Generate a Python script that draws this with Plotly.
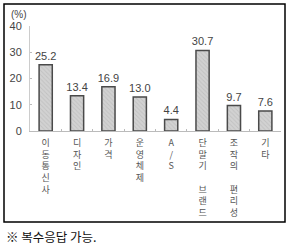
import plotly.graph_objects as go

categories = ["이동통신사", "디자인", "가격", "운영체제", "A/S", "단말기 브랜드", "조작의 편리성", "기타"]
tick_texts = ["이<br>동<br>통<br>신<br>사", "디<br>자<br>인", "가<br>격", "운<br>영<br>체<br>제",
              "A<br>/<br>S", "단<br>말<br>기<br> <br>브<br>랜<br>드", "조<br>작<br>의<br> <br>편<br>리<br>성", "기<br>타"]
values = [25.2, 13.4, 16.9, 13.0, 4.4, 30.7, 9.7, 7.6]
y_ticks = [0, 10, 20, 30, 40]

W, H = 289, 246
L, R, T, B = 30, 8, 26, 115
pw, ph = W - L - R, H - T - B

def px(x):
    return (x - L) / pw

def py(y):
    return (H - B - y) / ph

fig = go.Figure()
fig.add_trace(go.Bar(
    x=categories, y=values,
    text=[f"{v:.1f}" for v in values], textposition="outside",
    constraintext="none",
    textfont=dict(family="Liberation Sans, Arial", size=11, color="#444444"),
    cliponaxis=False,
    marker=dict(color="#d2d2d2", line=dict(color="#4a4a4a", width=1.5),
                pattern=dict(shape="\\", bgcolor="#d2d2d2", fgcolor="#b0b0b0", size=3, solidity=0.3)),
    width=0.42,
))

fig.update_layout(
    width=W, height=H, margin=dict(l=L, r=R, t=T, b=B, pad=0),
    paper_bgcolor="white", plot_bgcolor="white", showlegend=False,
    xaxis=dict(tickmode="array", tickvals=categories, ticktext=tick_texts,
               showline=True, linecolor="#bbbbbb", linewidth=1,
               ticks="inside", ticklen=2, tickcolor="#bbbbbb", tickson="boundaries",
               tickfont=dict(family="Noto Sans CJK KR", size=9, color="#555555"),
               tickangle=0, showgrid=False, ticklabelstandoff=3),
    yaxis=dict(range=[0, 40], tickvals=y_ticks, showline=True, linecolor="#cccccc", linewidth=1,
               ticks="inside", ticklen=2, tickcolor="#bbbbbb", showgrid=False, zeroline=False,
               tickfont=dict(family="Liberation Sans, Arial", size=11, color="#444444"),
               ticklabelstandoff=5),
    shapes=[dict(type="rect", xref="paper", yref="paper",
                 x0=px(4), x1=px(285), y0=py(222), y1=py(4),
                 line=dict(color="black", width=1.5))],
    annotations=[
        dict(text="(%)", xref="paper", yref="paper", x=px(19), y=py(15), showarrow=False,
             font=dict(family="Liberation Sans, Arial", size=10, color="#444444"),
             xanchor="center", yanchor="middle"),
        dict(text="※ 복수응답 가능.", xref="paper", yref="paper", x=px(4), y=py(236), showarrow=False,
             font=dict(family="Noto Sans CJK KR", size=12.5, color="#111111"),
             xanchor="left", yanchor="middle"),
    ],
)

fig.write_html("out.html")
